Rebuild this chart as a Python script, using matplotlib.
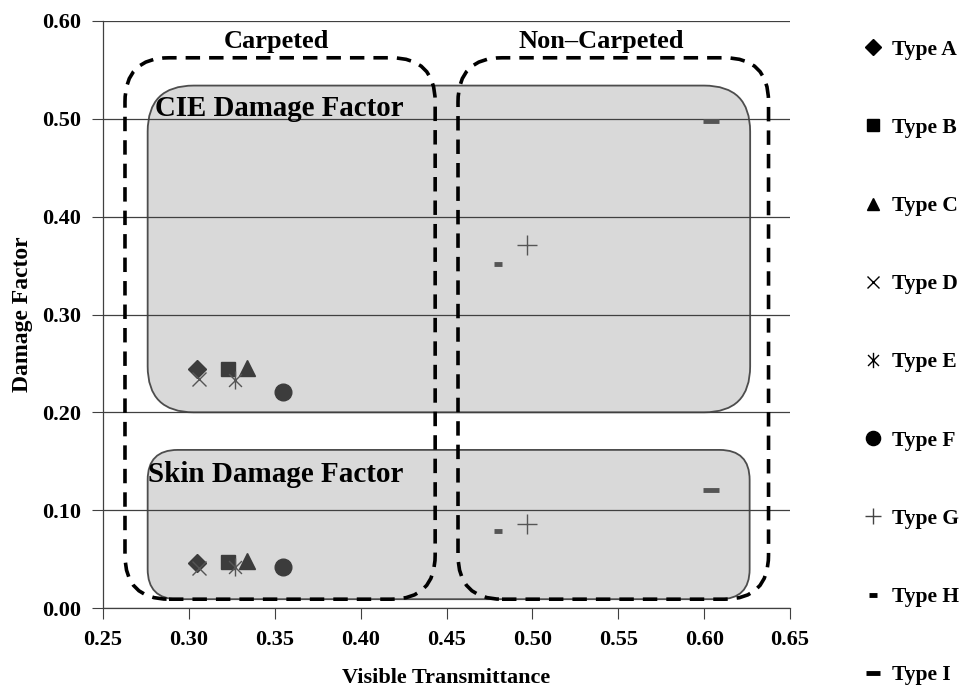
import matplotlib
matplotlib.use("Agg")
import matplotlib.pyplot as plt
from matplotlib.patches import FancyBboxPatch
from matplotlib.lines import Line2D
from matplotlib.path import Path

plt.rcParams["font.family"] = ["Liberation Serif", "DejaVu Serif"]
plt.rcParams["font.weight"] = "bold"
plt.rcParams["axes.labelweight"] = "bold"

# data
types = ["Type A", "Type B", "Type C", "Type D", "Type E",
         "Type F", "Type G", "Type H", "Type I"]
vis_trans = [0.3045, 0.3227, 0.334, 0.306, 0.3266, 0.3546, 0.4968, 0.4799, 0.604]
cie_factor = [0.244, 0.244, 0.245, 0.234, 0.233, 0.221, 0.371, 0.352, 0.498]
skin_factor = [0.046, 0.047, 0.048, 0.041, 0.042, 0.042, 0.086, 0.079, 0.121]

x_ticks = [0.25, 0.30, 0.35, 0.40, 0.45, 0.50, 0.55, 0.60, 0.65]
y_ticks = [0.00, 0.10, 0.20, 0.30, 0.40, 0.50, 0.60]

# X with a vertical bar (spreadsheet "star" marker)
star = Path([(-1, -1), (1, 1), (-1, 1), (1, -1), (0, -1.4), (0, 1.4)],
            [Path.MOVETO, Path.LINETO] * 3)

# marker, size, edge width, filled
styles = [
    ("D", 9, 1.0, True),
    ("s", 10, 1.0, True),
    ("^", 11, 1.0, True),
    ("x", 10, 1.0, False),
    (star, 13, 1.0, False),
    ("o", 12, 1.0, True),
    ("+", 14, 1.0, False),
    ("_", 6, 3.5, False),
    ("_", 12, 3.5, False),
]

fig = plt.figure(figsize=(9.66, 6.91), dpi=100)
ax = fig.add_axes([103 / 966, 1 - 608 / 691, 687 / 966, 587 / 691])
ax.set_xlim(0.25, 0.65)
ax.set_ylim(0.0, 0.60)

# circular corners: y-units per x-unit on screen
asp = (687 / 0.40) / (587 / 0.60)


def rbox(x0, y0, x1, y1, r_px, **kw):
    r = r_px / (687 / 0.40)
    p = FancyBboxPatch((x0, y0), x1 - x0, y1 - y0,
                       boxstyle=f"round,pad=0,rounding_size={r}",
                       mutation_aspect=asp, **kw)
    ax.add_patch(p)


# shaded regions
rbox(0.276, 0.200, 0.6268, 0.534, 46, facecolor="#d9d9d9",
     edgecolor="#4d4d4d", lw=1.3, zorder=1)
rbox(0.276, 0.009, 0.6265, 0.1616, 30, facecolor="#d9d9d9",
     edgecolor="#4d4d4d", lw=1.3, zorder=1)

# dashed groupings
rbox(0.2628, 0.009, 0.4434, 0.5624, 44, facecolor="none", edgecolor="black",
     lw=2.6, linestyle=(0, (4, 2.5)), zorder=4)
rbox(0.4567, 0.009, 0.6375, 0.5624, 44, facecolor="none", edgecolor="black",
     lw=2.6, linestyle=(0, (4, 2.5)), zorder=4)

for i, name in enumerate(types):
    m, ms, mew, filled = styles[i]
    col = "#3c3c3c" if filled else "#555555"
    for yv in (cie_factor[i], skin_factor[i]):
        ax.plot(vis_trans[i], yv, linestyle="none", marker=m, markersize=ms,
                markeredgewidth=mew, color=col, zorder=5)

ax.text(0.3508, 0.579, "Carpeted", ha="center", va="center", fontsize=19)
ax.text(0.540, 0.579, "Non\u2013Carpeted", ha="center", va="center", fontsize=19)
ax.text(0.280, 0.511, "CIE Damage Factor", ha="left", va="center", fontsize=20.8, zorder=6)
ax.text(0.276, 0.136, "Skin Damage Factor", ha="left", va="center", fontsize=21, zorder=6)

ax.set_xticks(x_ticks)
ax.set_yticks(y_ticks)
ax.set_xticklabels([f"{v:.2f}" for v in x_ticks])
ax.set_yticklabels([f"{v:.2f}" for v in y_ticks])
ax.tick_params(axis="both", direction="out", length=8, width=0.8,
               colors="#404040", labelcolor="black", labelsize=16, pad=8)
ax.yaxis.grid(True, color="#404040", lw=0.9, zorder=3)
ax.set_axisbelow(False)
for s in ("top", "right"):
    ax.spines[s].set_visible(False)
for s in ("left", "bottom"):
    ax.spines[s].set_color("#404040")
    ax.spines[s].set_linewidth(0.9)

ax.set_xlabel("Visible Transmittance", fontsize=16, labelpad=13)
ax.set_ylabel("Damage Factor", fontsize=17, labelpad=6)

handles = []
for i, name in enumerate(types):
    m, ms, mew, filled = styles[i]
    handles.append(Line2D([], [], linestyle="none", marker=m,
                          markersize=ms * 0.85, markeredgewidth=mew,
                          color="black" if filled or ms < 14 else "#444444"))
fig.legend(handles, types, loc="upper left", bbox_to_anchor=(851 / 966, 1 - 31 / 691),
           frameon=False, fontsize=15.5, labelspacing=2.7, handlelength=1.2,
           handletextpad=0.3, borderaxespad=0)

fig.savefig("out.png", dpi=100)
